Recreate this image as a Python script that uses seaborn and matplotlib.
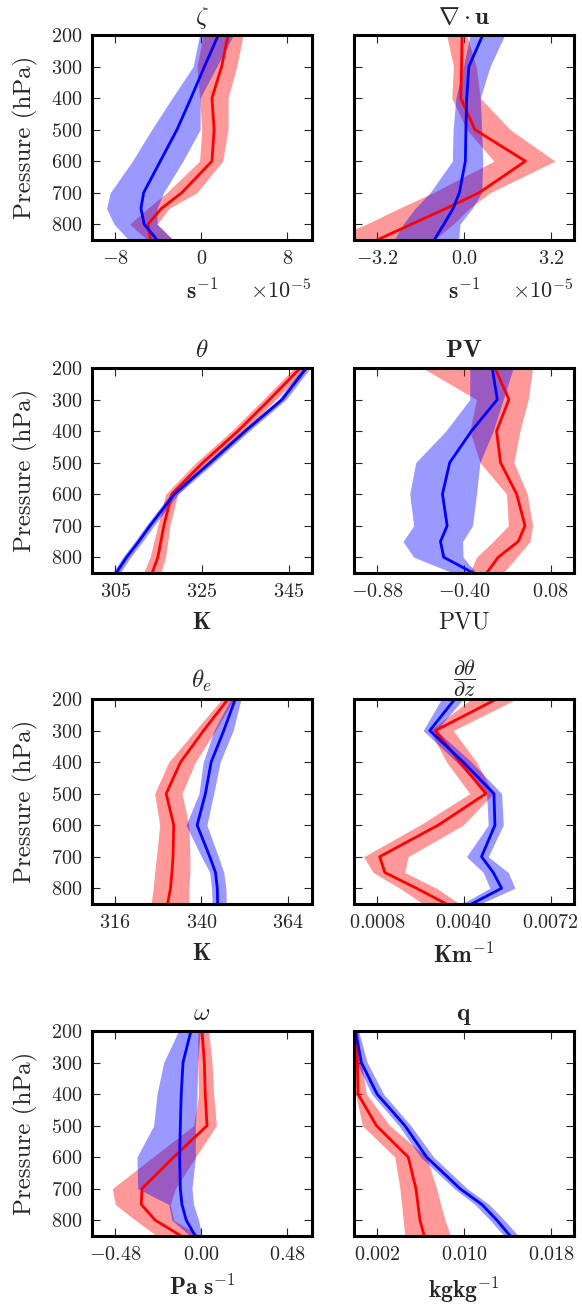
import numpy as np
import pandas as pd
import matplotlib
matplotlib.use("Agg")
import matplotlib.pyplot as plt
import seaborn as sns

# ---------------- data ----------------
levels = [200, 300, 400, 500, 600, 700, 750, 800, 850]

# zeta (units 1e-5 s^-1)
ZETA_SCALE = 1e-5
zeta_red = [2.5, 1.9, 1.0, 1.2, 1.0, -1.8, -3.7, -4.95, -4.7]
zeta_red_lo = [0.2, -0.4, -0.15, 0.05, -0.15, -3.2, -5.0, -6.65, -5.0]
zeta_red_hi = [3.9, 3.3, 2.5, 2.5, 2.0, -0.4, -3.0, -4.1, -2.6]
zeta_blue = [1.6, 0.3, -0.95, -2.25, -3.8, -5.35, -5.6, -5.3, -4.1]
zeta_blue_lo = [-0.15, -0.75, -2.7, -4.6, -6.4, -8.45, -8.8, -8.1, -6.75]
zeta_blue_hi = [3.0, 1.45, -0.1, -0.1, -1.7, -3.5, -4.1, -4.1, -2.6]

# divergence (units 1e-5 s^-1)
div_red = [-0.07, -0.09, -0.12, 0.4, 2.26, 0.56, -0.66, -1.94, -3.2]
div_red_lo = [-0.64, -0.39, -0.45, 0.1, 1.1, -1.13, -2.4, -3.6, -5.0]
div_red_hi = [0.1, 0.45, 0.6, 1.7, 3.35, 0.96, 0.2, -0.4, -1.1]
div_blue = [0.69, 0.18, 0.1, 0.07, 0.05, -0.17, -0.4, -0.74, -1.1]
div_blue_lo = [0.22, -0.02, -0.3, -0.4, -0.43, -1.25, -1.8, -2.24, -2.58]
div_blue_hi = [1.5, 0.96, 0.6, 0.65, 0.69, 0.65, 0.3, -0.15, -0.2]

# theta (K)
th_red = [347.7, 340.6, 333.3, 325.2, 318.0, 316.2, 315.5, 314.8, 313.5]
th_red_lo = [346.3, 339.1, 331.8, 323.6, 316.6, 314.8, 313.9, 313.0, 311.5]
th_red_hi = [349.1, 342.1, 334.8, 326.8, 319.4, 317.6, 317.1, 316.6, 315.5]
th_blue = [349.1, 343.5, 335.0, 326.9, 318.6, 313.0, 310.4, 307.6, 305.2]
th_blue_lo = [348.2, 342.6, 334.1, 326.0, 317.7, 312.1, 309.5, 306.7, 304.3]
th_blue_hi = [350.0, 344.4, 335.9, 327.8, 319.5, 313.9, 311.3, 308.5, 306.1]

# PV (PVU)
pv_red = [-0.228, -0.151, -0.219, -0.197, -0.108, -0.062, -0.099, -0.21, -0.274]
pv_red_lo = [-0.628, -0.33, -0.367, -0.31, -0.164, -0.154, -0.238, -0.33, -0.367]
pv_red_hi = [-0.02, -0.044, -0.09, -0.123, -0.049, -0.02, -0.034, -0.108, -0.182]
pv_blue = [-0.243, -0.215, -0.358, -0.478, -0.518, -0.492, -0.529, -0.511, -0.348]
pv_blue_lo = [-0.367, -0.367, -0.5, -0.666, -0.699, -0.677, -0.736, -0.677, -0.459]
pv_blue_hi = [-0.127, -0.182, -0.238, -0.311, -0.33, -0.352, -0.407, -0.404, -0.33]

# theta_e (K)
the_red = [347.4, 340.6, 334.2, 330.2, 332.3, 332.1, 331.8, 331.4, 330.6]
the_red_lo = [345.7, 338.3, 330.9, 327.0, 328.4, 327.5, 327.0, 326.6, 326.0]
the_red_hi = [349.0, 343.9, 338.3, 334.6, 336.5, 336.8, 336.8, 336.5, 336.5]
the_blue = [349.4, 346.2, 342.7, 341.1, 338.8, 342.3, 343.9, 344.4, 344.5]
the_blue_lo = [348.1, 343.5, 340.5, 339.3, 335.7, 340.0, 342.3, 342.8, 343.0]
the_blue_hi = [351.0, 348.8, 345.2, 343.4, 341.5, 344.7, 346.2, 346.8, 346.9]

# d theta / dz (K m^-1)
dth_red = [0.005206, 0.002954, 0.003852, 0.004812, 0.003052, 0.000898, 0.001083, 0.002252, 0.00336]
dth_red_lo = [0.00428, 0.002745, 0.00336, 0.00422, 0.002375, 0.000308, 0.000652, 0.001637, 0.002498]
dth_red_hi = [0.005945, 0.003606, 0.004468, 0.005083, 0.003975, 0.001945, 0.001822, 0.002991, 0.003852]
dth_blue = [0.003668, 0.002745, 0.003975, 0.005108, 0.005145, 0.004652, 0.005083, 0.005391, 0.004283]
dth_blue_lo = [0.003175, 0.002498, 0.003729, 0.004837, 0.004898, 0.004098, 0.004714, 0.00496, 0.003914]
dth_blue_hi = [0.003975, 0.002991, 0.004283, 0.005391, 0.005452, 0.004898, 0.005637, 0.005883, 0.004591]

# omega (Pa s^-1)
om_red = [0.004, 0.017, 0.022, 0.032, -0.154, -0.331, -0.335, -0.257, -0.112]
om_red_lo = [-0.02, -0.02, -0.015, -0.043, -0.27, -0.497, -0.48, -0.368, -0.247]
om_red_hi = [0.041, 0.06, 0.069, 0.084, -0.032, -0.145, -0.173, -0.154, -0.006]
om_blue = [-0.058, -0.102, -0.112, -0.117, -0.121, -0.117, -0.108, -0.084, -0.033]
om_blue_lo = [-0.127, -0.21, -0.247, -0.266, -0.359, -0.355, -0.182, -0.164, -0.061]
om_blue_hi = [-0.006, -0.02, -0.024, -0.033, -0.033, -0.052, -0.043, -0.015, 0.004]

# q (kg kg^-1)
q_red = [0.00003, 0.000185, 0.000246, 0.001938, 0.004862, 0.005569, 0.005754, 0.005938, 0.006338]
q_red_lo = [0.0, 0.00003, 0.00003, 0.000646, 0.003631, 0.004092, 0.00425, 0.0044, 0.004554]
q_red_hi = [0.000246, 0.000554, 0.001015, 0.003169, 0.006554, 0.007477, 0.00785, 0.008246, 0.00877]
q_blue = [0.0, 0.000554, 0.002, 0.004554, 0.006554, 0.00963, 0.011631, 0.013015, 0.014246]
q_blue_lo = [0.0, 0.0001, 0.0015, 0.0040, 0.0060, 0.0091, 0.0110, 0.0124, 0.0137]
q_blue_hi = [0.0003, 0.0011, 0.0026, 0.0051, 0.0072, 0.0103, 0.0123, 0.0137, 0.0150]

titles = [r"$\zeta$", r"$\nabla\cdot\mathbf{u}$", r"$\theta$", r"$\mathbf{PV}$",
          r"$\theta_e$", r"$\dfrac{\partial\theta}{\partial z}$", r"$\omega$", r"$\mathbf{q}$"]
title_sizes = [18, 18, 18, 18, 18, 16, 18, 18]
xlabels = [r"$\mathbf{s^{-1}}$", r"$\mathbf{s^{-1}}$", r"$\mathbf{K}$", "PVU",
           r"$\mathbf{K}$", r"$\mathbf{Km^{-1}}$", r"$\mathbf{Pa\ s^{-1}}$", r"$\mathbf{kgkg^{-1}}$"]
offset_labels = [r"$\times10^{-5}$", r"$\times10^{-5}$", "", "", "", "", "", ""]
xticks = [[-8e-5, 0, 8e-5], [-3.2e-5, 0, 3.2e-5], [305, 325, 345], [-0.88, -0.40, 0.08],
          [316, 340, 364], [0.0008, 0.0040, 0.0072], [-0.48, 0.0, 0.48], [0.002, 0.010, 0.018]]
xlims = [(-10.15e-5, 10.3e-5), (-4.05e-5, 4.05e-5), (299.6, 350.4), (-1.007, 0.209),
         (309.6, 370.7), (-0.00005, 0.00806), (-0.61, 0.618), (-0.000123, 0.0201)]

panels = [
    (zeta_red, zeta_red_lo, zeta_red_hi, zeta_blue, zeta_blue_lo, zeta_blue_hi, ZETA_SCALE),
    (div_red, div_red_lo, div_red_hi, div_blue, div_blue_lo, div_blue_hi, ZETA_SCALE),
    (th_red, th_red_lo, th_red_hi, th_blue, th_blue_lo, th_blue_hi, 1.0),
    (pv_red, pv_red_lo, pv_red_hi, pv_blue, pv_blue_lo, pv_blue_hi, 1.0),
    (the_red, the_red_lo, the_red_hi, the_blue, the_blue_lo, the_blue_hi, 1.0),
    (dth_red, dth_red_lo, dth_red_hi, dth_blue, dth_blue_lo, dth_blue_hi, 1.0),
    (om_red, om_red_lo, om_red_hi, om_blue, om_blue_lo, om_blue_hi, 1.0),
    (q_red, q_red_lo, q_red_hi, q_blue, q_blue_lo, q_blue_hi, 1.0),
]

# ---------------- style ----------------
sns.set_style("ticks")
plt.rcParams.update({
    "font.family": ["cmr10", "DejaVu Serif"],
    "mathtext.fontset": "cm",
    "axes.formatter.use_mathtext": True,
    "axes.unicode_minus": True,
    "xtick.direction": "in",
    "ytick.direction": "in",
    "xtick.top": True,
    "ytick.right": True,
    "xtick.major.size": 6,
    "ytick.major.size": 6,
    "xtick.major.width": 0.8,
    "ytick.major.width": 0.8,
    "axes.linewidth": 2.2,
    "axes.edgecolor": "black",
    "font.size": 14.5,
    "xtick.labelsize": 14.5,
    "ytick.labelsize": 14.5,
})

W, H = 582, 1304
fig = plt.figure(figsize=(W / 100, H / 100), dpi=100)

col_left = [92, 354]
row_top = [35, 368, 699, 1031]
aw, ah = 220, 205

for i, (rm, rlo, rhi, bm, blo, bhi, sc) in enumerate(panels):
    r, c = divmod(i, 2)
    ax = fig.add_axes([col_left[c] / W, 1 - (row_top[r] + ah) / H, aw / W, ah / H])
    lev = np.array(levels, dtype=float)
    ax.fill_betweenx(lev, np.array(rlo) * sc, np.array(rhi) * sc, color="red", alpha=0.4, lw=0)
    ax.fill_betweenx(lev, np.array(blo) * sc, np.array(bhi) * sc, color="blue", alpha=0.4, lw=0)
    df = pd.DataFrame({
        "p": levels * 2,
        "v": list(np.array(rm) * sc) + list(np.array(bm) * sc),
        "g": ["red"] * len(levels) + ["blue"] * len(levels),
    })
    sns.lineplot(data=df, x="v", y="p", hue="g", palette={"red": "red", "blue": "blue"},
                 orient="y", sort=False, estimator=None, lw=2, legend=False, ax=ax)
    ax.set_ylim(850, 200)
    ax.set_yticks([200, 300, 400, 500, 600, 700, 800])
    ax.set_xlim(*xlims[i])
    ax.set_xticks(xticks[i])
    ax.set_title(titles[i], fontsize=title_sizes[i], pad=8 if i != 5 else 10)
    ax.set_xlabel(xlabels[i], fontsize=17, labelpad=8)
    ax.tick_params(axis="both", which="major", pad=7)
    if c == 0:
        ax.set_ylabel("Pressure (hPa)", fontsize=18, labelpad=9)
    else:
        ax.set_ylabel("")
        ax.set_yticklabels([])
    ax.xaxis.get_offset_text().set_visible(False)
    if offset_labels[i]:
        ax.text(1.0, -0.245, offset_labels[i], transform=ax.transAxes,
                ha="right", va="center", fontsize=16)
    for s in ax.spines.values():
        s.set_visible(True)

fig.savefig("out.png", dpi=100)
